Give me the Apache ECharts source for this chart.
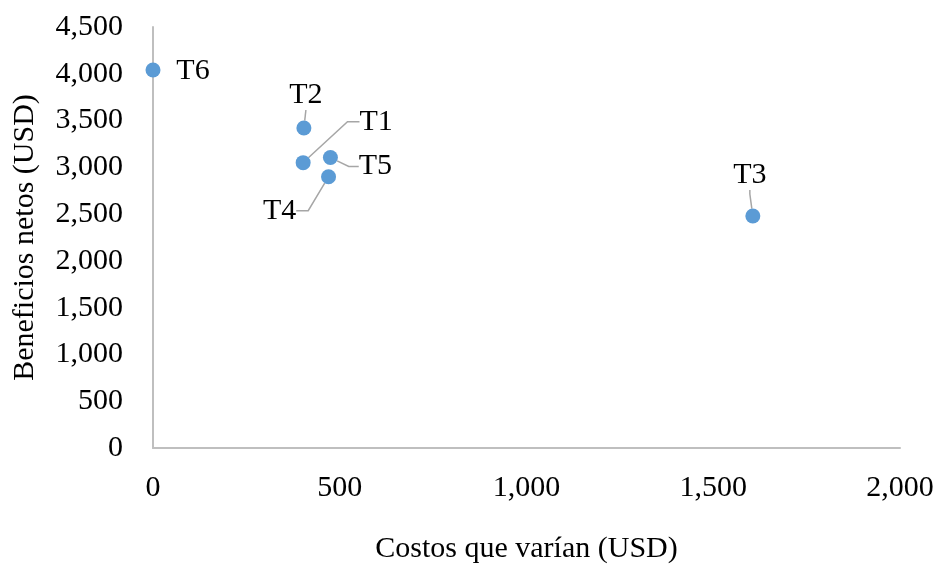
<!DOCTYPE html>
<html>
<head>
<meta charset="utf-8">
<title>Beneficios netos vs costos que varían</title>
<script src="https://cdn.jsdelivr.net/npm/echarts@6/dist/echarts.min.js"></script>
<style>
  html, body { margin: 0; padding: 0; background: #ffffff; }
  #chart { width: 942px; height: 569px; }
</style>
</head>
<body>
<div id="chart"></div>
<script>
// Treatments and their economic results
const treatments = ['T1', 'T2', 'T3', 'T4', 'T5', 'T6'];
const costs = [402, 404, 1606, 470, 475, 0];          // Costos que varían (USD)
const benefits = [3050, 3420, 2480, 2900, 3105, 4040]; // Beneficios netos (USD)

// Axis ticks
const xTicks = [0, 500, 1000, 1500, 2000];
const yTicks = [0, 500, 1000, 1500, 2000, 2500, 3000, 3500, 4000, 4500];

// Where each treatment label sits relative to its point, and its leader line
const labelPlacement = {
  T1: { shift: [73, -41], line: true, length2: 12 },
  T2: { shift: [2, -33], line: true, length2: 0 },
  T3: { shift: [-3, -41], line: true, length2: 4 },
  T4: { shift: [-49, 34], line: true, length2: 12 },
  T5: { shift: [45, 9], line: true, length2: 10 },
  T6: { shift: [40, 1], line: false, length2: 0 }
};

const FONT = "'Liberation Serif', 'Times New Roman', serif";
const AXIS_GREY = '#bfbfbf';

function withThousands(v) {
  const s = String(Math.round(v));
  return s.replace(/\B(?=(\d{3})+(?!\d))/g, ',');
}

const points = treatments.map((name, i) => {
  const p = labelPlacement[name];
  return {
    name: name,
    value: [costs[i], benefits[i]],
    labelLine: { show: p.line, length2: p.length2 }
  };
});

const chart = echarts.init(document.getElementById('chart'), null, { renderer: 'canvas' });

chart.setOption({
  animation: false,
  backgroundColor: '#ffffff',
  grid: { left: 153, right: 42, top: 27, bottom: 116, containLabel: false },
  xAxis: {
    type: 'value',
    min: xTicks[0],
    max: xTicks[xTicks.length - 1],
    interval: xTicks[1] - xTicks[0],
    name: 'Costos que varían (USD)',
    nameLocation: 'middle',
    nameGap: 86,
    nameTextStyle: { fontFamily: FONT, fontSize: 30, color: '#000000' },
    axisLine: { show: true, onZero: false, lineStyle: { color: AXIS_GREY, width: 2 } },
    axisTick: { show: false },
    splitLine: { show: false },
    axisLabel: {
      fontFamily: FONT, fontSize: 30, color: '#000000', margin: 25,
      formatter: withThousands
    }
  },
  yAxis: {
    type: 'value',
    min: yTicks[0],
    max: yTicks[yTicks.length - 1],
    interval: yTicks[1] - yTicks[0],
    name: 'Beneficios netos (USD)',
    nameLocation: 'middle',
    nameGap: 113,
    nameTextStyle: { fontFamily: FONT, fontSize: 30, color: '#000000' },
    axisLine: { show: true, onZero: false, lineStyle: { color: AXIS_GREY, width: 2 } },
    axisTick: { show: false },
    splitLine: { show: false },
    axisLabel: {
      fontFamily: FONT, fontSize: 30, color: '#000000', margin: 30,
      formatter: withThousands
    }
  },
  series: [{
    type: 'scatter',
    symbol: 'circle',
    symbolSize: 15,
    itemStyle: { color: '#5b9bd5', opacity: 1 },
    label: {
      show: true,
      position: 'inside',
      formatter: '{b}',
      fontFamily: FONT,
      fontSize: 30,
      color: '#000000',
      opacity: 1,
      textBorderWidth: 0,
      textBorderColor: 'transparent'
    },
    labelLine: {
      show: true,
      lineStyle: { color: '#a6a6a6', width: 1.5, opacity: 1 }
    },
    labelLayout: function (params) {
      const p = labelPlacement[treatments[params.dataIndex]];
      return { dx: p.shift[0], dy: p.shift[1] };
    },
    emphasis: { disabled: true },
    data: points
  }]
});
</script>
</body>
</html>
